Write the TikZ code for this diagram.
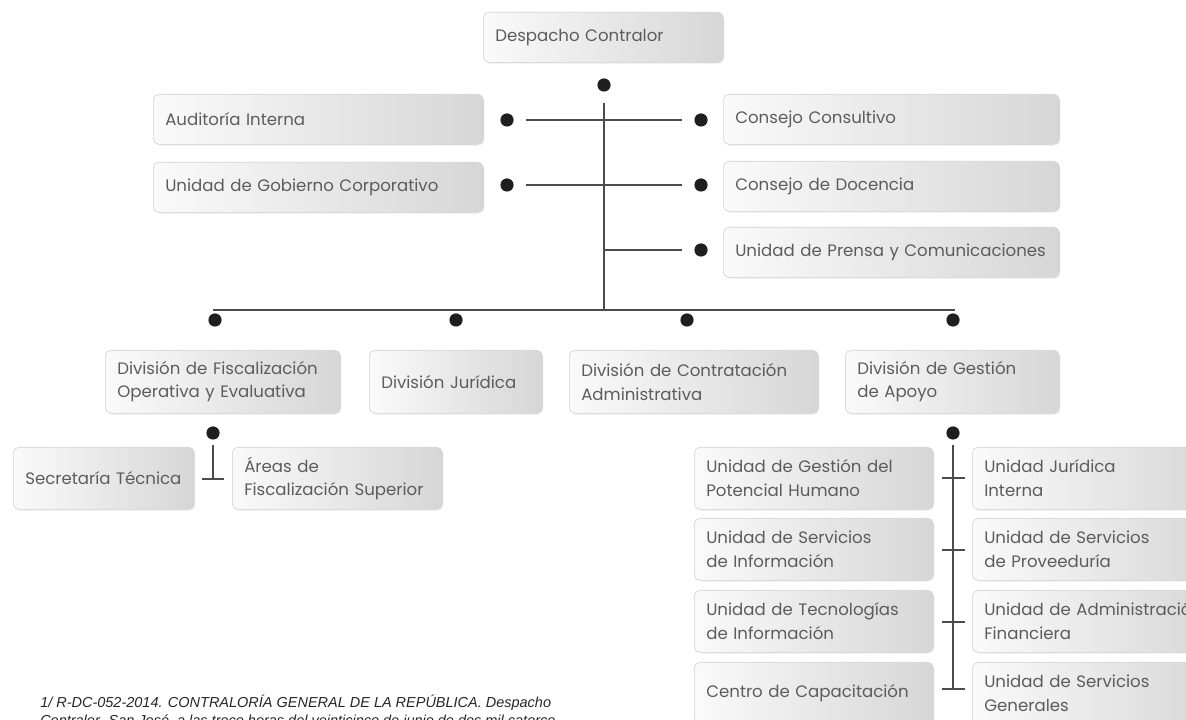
\documentclass[tikz,border=0pt]{standalone}
\usepackage{fontspec}
\setmainfont{Liberation Sans}
\newfontfamily\orgfont{Poppins}
\usetikzlibrary{shadows}

\tikzset{
  unit/.style={draw=gray!35, rounded corners=4pt, left color=gray!4, right color=gray!32,
    drop shadow={opacity=0.15, shadow xshift=0.7pt, shadow yshift=-0.9pt},
    anchor=north west, inner xsep=0.3cm, inner ysep=2pt, align=left, text width=#1,
    font=\orgfont\fontsize{11.8}{16.8}\selectfont, text=gray!72!black},
  dot/.style={circle, fill=black!88, inner sep=0pt, minimum size=0.33cm},
  link/.style={draw=black!70, line width=1.1pt},
  note/.style={anchor=base west, inner sep=0pt, font=\itshape\fontsize{10.3}{12}\selectfont, text=black!85}
}

\begin{document}
\begin{tikzpicture}[x=0.025cm, y=-0.025cm]
\useasboundingbox (0,0) rectangle (1186,720);
\clip (0,0) rectangle (1186,720);

% Despacho
\node[unit=5.4cm, minimum height=1.25cm] (despacho) at (483,12) {Despacho Contralor};
\node[dot] (d0) at (604,85) {};
\coordinate (t0) at (604,103);
\coordinate (t1) at (604,310);
\draw[link] (t0) -- (t1);

% Staff units, left
\node[unit=7.65cm, minimum height=1.25cm] (auditoria) at (153,94) {Auditoría Interna};
\node[unit=7.65cm, minimum height=1.25cm] (gobierno) at (153,162) {Unidad de Gobierno Corporativo};

% Staff units, right
\node[unit=7.8cm, minimum height=1.25cm] (consultivo) at (723,94) {Consejo Consultivo};
\node[unit=7.8cm, minimum height=1.25cm] (docencia) at (723,161) {Consejo de Docencia};
\node[unit=7.8cm, minimum height=1.25cm] (prensa) at (723,227) {Unidad de Prensa y Comunicaciones};

% Staff connectors
\node[dot] (al1) at (507,120) {};
\node[dot] (ar1) at (701,120) {};
\node[dot] (al2) at (507,185) {};
\node[dot] (ar2) at (701,185) {};
\node[dot] (ar3) at (701,250) {};
\coordinate (j3) at (604,250);
\draw[link, shorten <=0.31cm, shorten >=0.3cm] (al1) -- (ar1);
\draw[link, shorten <=0.31cm, shorten >=0.3cm] (al2) -- (ar2);
\draw[link, shorten >=0.3cm] (j3) -- (ar3);

% Bus to divisions
\coordinate (b0) at (213,310);
\coordinate (b1) at (955,310);
\draw[link] (b0) -- (b1);
\node[dot] (dv1) at (215,320) {};
\node[dot] (dv2) at (456,320) {};
\node[dot] (dv3) at (687,320) {};
\node[dot] (dv4) at (953,320) {};

% Divisions
\node[unit=5.275cm, minimum height=1.575cm] (dfoe) at (105,350) {División de Fiscalización\\Operativa y Evaluativa};
\node[unit=3.725cm, minimum height=1.575cm] (juridica) at (369,350) {División Jurídica};
\node[unit=5.625cm, minimum height=1.575cm] (dca) at (569,350) {División de Contratación\\Administrativa};
\node[unit=4.75cm, minimum height=1.575cm] (dga) at (845,350) {División de Gestión\\de Apoyo};

% DFOE units
\node[dot] (df) at (213,433) {};
\coordinate (f0) at (213,445);
\coordinate (f1) at (213,479);
\draw[link] (f0) -- (f1);
\draw[link] (f1) ++(-11,0) -- ++(22,0);
\node[unit=3.925cm, minimum height=1.55cm] (secretaria) at (13,447) {Secretaría Técnica};
\node[unit=4.65cm, minimum height=1.55cm] (areas) at (232,447) {Áreas de\\Fiscalización Superior};

% DGA units
\node[dot] (dg) at (953,433) {};
\coordinate (g0) at (953,445);
\coordinate (g1) at (953,689);
\draw[link] (g0) -- (g1);
\foreach \y [count=\i] in {478,550,622,689} {
  \coordinate (k\i) at (953,\y);
  \draw[link] (k\i) ++(-11,0) -- ++(23,0);
}
\node[unit=5.375cm, minimum height=1.55cm] (humano) at (694,447) {Unidad de Gestión del\\Potencial Humano};
\node[unit=5.375cm, minimum height=1.55cm] (servinfo) at (694,518) {Unidad de Servicios\\de Información};
\node[unit=5.375cm, minimum height=1.55cm] (tecno) at (694,590) {Unidad de Tecnologías\\de Información};
\node[unit=5.375cm, minimum height=1.55cm] (centro) at (694,662) {Centro de Capacitación};
\node[unit=5.6cm, minimum height=1.55cm] (ujuridica) at (972,447) {Unidad Jurídica\\Interna};
\node[unit=5.6cm, minimum height=1.55cm] (proveeduria) at (972,518) {Unidad de Servicios\\de Proveeduría};
\node[unit=5.6cm, minimum height=1.55cm] (financiera) at (972,590) {Unidad de Administración\\Financiera};
\node[unit=5.6cm, minimum height=1.55cm] (generales) at (972,662) {Unidad de Servicios\\Generales};

% Footnote
\node[note] (nota1) at (40,708) {1/ R-DC-052-2014. CONTRALORÍA GENERAL DE LA REPÚBLICA. Despacho};
\node[note] (nota2) at (40,726) {Contralor. San José, a las trece horas del veinticinco de junio de dos mil catorce};
\end{tikzpicture}
\end{document}
